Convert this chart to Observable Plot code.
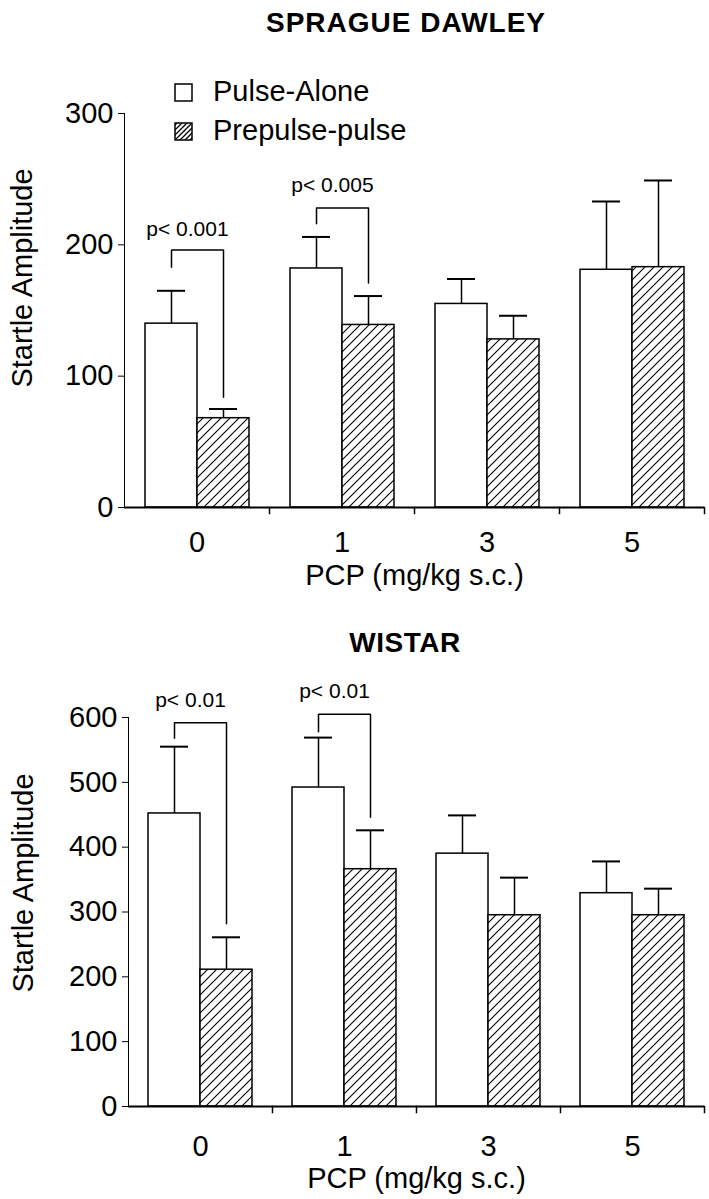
<!DOCTYPE html>
<html>
<head>
<meta charset="utf-8">
<script src="https://cdn.jsdelivr.net/npm/d3@7"></script>
<script src="https://cdn.jsdelivr.net/npm/@observablehq/plot@0.6"></script>
<style>
  html, body { margin: 0; padding: 0; background: white; }
  #wrap { position: relative; width: 709px; height: 1199px; overflow: hidden; font-family: "Liberation Sans", Arial, Helvetica, sans-serif; }
  #wrap > div.panel { position: absolute; left: 0; }
  #overlay { position: absolute; left: 0; top: 0; pointer-events: none; }
</style>
</head>
<body>
<svg width="0" height="0" style="position:absolute">
  <defs>
    <pattern id="hatch" patternUnits="userSpaceOnUse" width="9" height="9">
      <rect width="9" height="9" fill="white"/>
      <path d="M0,9 L9,0 M-1,1 L1,-1 M8,10 L10,8" stroke="black" stroke-width="1.1"/>
    </pattern>
    <pattern id="hatchSmall" patternUnits="userSpaceOnUse" width="5" height="5">
      <rect width="5" height="5" fill="white"/>
      <path d="M0,5 L5,0 M-1,1 L1,-1 M4,6 L6,4" stroke="black" stroke-width="1.3"/>
    </pattern>
  </defs>
</svg>
<div id="wrap">
  <div class="panel" id="top" style="top:0px"></div>
  <div class="panel" id="bottom" style="top:600px"></div>
  <svg id="overlay" width="709" height="1199" font-family="Liberation Sans, Arial, Helvetica, sans-serif">
    <text x="406" y="32" text-anchor="middle" font-weight="bold" font-size="28" letter-spacing="1">SPRAGUE DAWLEY</text>
    <text x="405" y="652" text-anchor="middle" font-weight="bold" font-size="28" letter-spacing="0.5">WISTAR</text>
    <text transform="translate(32,278) rotate(-90)" text-anchor="middle" font-size="29">Startle Amplitude</text>
    <text transform="translate(33,883) rotate(-90)" text-anchor="middle" font-size="29">Startle Amplitude</text>
    <rect x="175" y="84" width="17" height="17" fill="white" stroke="black" stroke-width="1.5"/>
    <text x="213" y="101" font-size="29">Pulse-Alone</text>
    <rect x="175" y="123" width="17" height="17" fill="url(#hatchSmall)" stroke="black" stroke-width="1.5"/>
    <text x="213" y="140" font-size="29">Prepulse-pulse</text>
  </svg>
</div>
<script>
// ---------- data ----------
const doses = ["0", "1", "3", "5"];
const seriesNames = ["Pulse-Alone", "Prepulse-pulse"];
const xLabel = "PCP (mg/kg s.c.)";

// Sprague Dawley
const sdPulseAlone = [140, 182, 155, 181];
const sdPulseAloneErr = [25, 24, 19, 52];
const sdPrepulse = [68, 139, 128, 183];
const sdPrepulseErr = [7, 22, 18, 66];
const sdTicks = [0, 100, 200, 300];
const sdBracketDose = ["0", "1"];
const sdBracketLevel = [196, 228];
const sdBracketLeft = [183, 216];
const sdBracketRight = [84, 171];
const sdPText = ["p< 0.001", "p< 0.005"];
const sdPTextY = [212, 245];

// Wistar
const wiPulseAlone = [452, 492, 390, 329];
const wiPulseAloneErr = [103, 77, 59, 49];
const wiPrepulse = [211, 366, 295, 295];
const wiPrepulseErr = [50, 60, 58, 41];
const wiTicks = [0, 100, 200, 300, 400, 500, 600];
const wiBracketDose = ["0", "1"];
const wiBracketLevel = [592, 605];
const wiBracketLeft = [568, 578];
const wiBracketRight = [282, 446];
const wiPText = ["p< 0.01", "p< 0.01"];
const wiPTextY = [626, 640];

const FONT = "Liberation Sans, Arial, Helvetica, sans-serif";

function panel(o) {
  const rows = [];
  doses.forEach((d, i) => {
    rows.push({dose: d, series: seriesNames[0], value: o.pa[i], err: o.paErr[i]});
    rows.push({dose: d, series: seriesNames[1], value: o.pp[i], err: o.ppErr[i]});
  });
  const bracketPts = [];
  o.bDose.forEach((d, i) => {
    bracketPts.push({id: i, dose: d, series: seriesNames[0], y: o.bLeft[i]});
    bracketPts.push({id: i, dose: d, series: seriesNames[0], y: o.bLevel[i]});
    bracketPts.push({id: i, dose: d, series: seriesNames[1], y: o.bLevel[i]});
    bracketPts.push({id: i, dose: d, series: seriesNames[1], y: o.bRight[i]});
  });
  const notes = o.bDose.map((d, i) => ({dose: d, series: seriesNames[0], y: o.pY[i], text: o.pText[i]}));
  const plotH = o.height - o.marginTop - o.marginBottom;
  return Plot.plot({
    width: 709,
    height: o.height,
    marginLeft: o.marginLeft,
    marginRight: o.marginRight,
    marginTop: o.marginTop,
    marginBottom: o.marginBottom,
    style: {fontFamily: FONT, fontSize: "29px", color: "black", background: "transparent", overflow: "visible"},
    fx: {domain: doses, paddingInner: 0, paddingOuter: 0, axis: "bottom", tickSize: 0, tickPadding: o.fxPad,
         label: xLabel, labelAnchor: "center", labelOffset: o.fxLabelOffset},
    x: {domain: seriesNames, paddingInner: 0, paddingOuter: 0.38, axis: null},
    y: {domain: [0, o.yMax], ticks: o.ticks, tickSize: 6, tickPadding: 5, line: true, label: null, tickFormat: d => String(d)},
    color: {domain: seriesNames, range: ["white", "url(#hatch)"]},
    marks: [
      Plot.barY(rows, {fx: "dose", x: "series", y: "value", fill: "series", stroke: "black", strokeWidth: 1.5}),
      Plot.ruleX(rows, {fx: "dose", x: "series", y1: "value", y2: d => d.value + d.err, stroke: "black", strokeWidth: 1.5}),
      Plot.tickY(rows, {fx: "dose", x: "series", y: d => d.value + d.err, insetLeft: 12, insetRight: 12, stroke: "black", strokeWidth: 2}),
      Plot.ruleY([0], {stroke: "black", strokeWidth: 2}),
      Plot.frame({anchor: "right", insetTop: plotH, insetBottom: -6, stroke: "black", strokeWidth: 1.5}),
      Plot.line(bracketPts, {fx: "dose", x: "series", y: "y", z: "id", stroke: "black", strokeWidth: 1.5}),
      Plot.text(notes, {fx: "dose", x: "series", y: "y", text: "text", dx: 16, fontSize: 21, fill: "black"})
    ]
  });
}

document.getElementById("top").append(panel({
  pa: sdPulseAlone, paErr: sdPulseAloneErr, pp: sdPrepulse, ppErr: sdPrepulseErr,
  yMax: 300, ticks: sdTicks,
  bDose: sdBracketDose, bLevel: sdBracketLevel, bLeft: sdBracketLeft, bRight: sdBracketRight,
  pText: sdPText, pY: sdPTextY,
  fxPad: 24, fxLabelOffset: 77,
  height: 600, marginTop: 113, marginBottom: 93, marginLeft: 124, marginRight: 5
}));

document.getElementById("bottom").append(panel({
  pa: wiPulseAlone, paErr: wiPulseAloneErr, pp: wiPrepulse, ppErr: wiPrepulseErr,
  yMax: 600, ticks: wiTicks,
  bDose: wiBracketDose, bLevel: wiBracketLevel, bLeft: wiBracketLeft, bRight: wiBracketRight,
  pText: wiPText, pY: wiPTextY,
  fxPad: 29, fxLabelOffset: 81,
  height: 599, marginTop: 117, marginBottom: 93, marginLeft: 127, marginRight: 4
}));
</script>
</body>
</html>
